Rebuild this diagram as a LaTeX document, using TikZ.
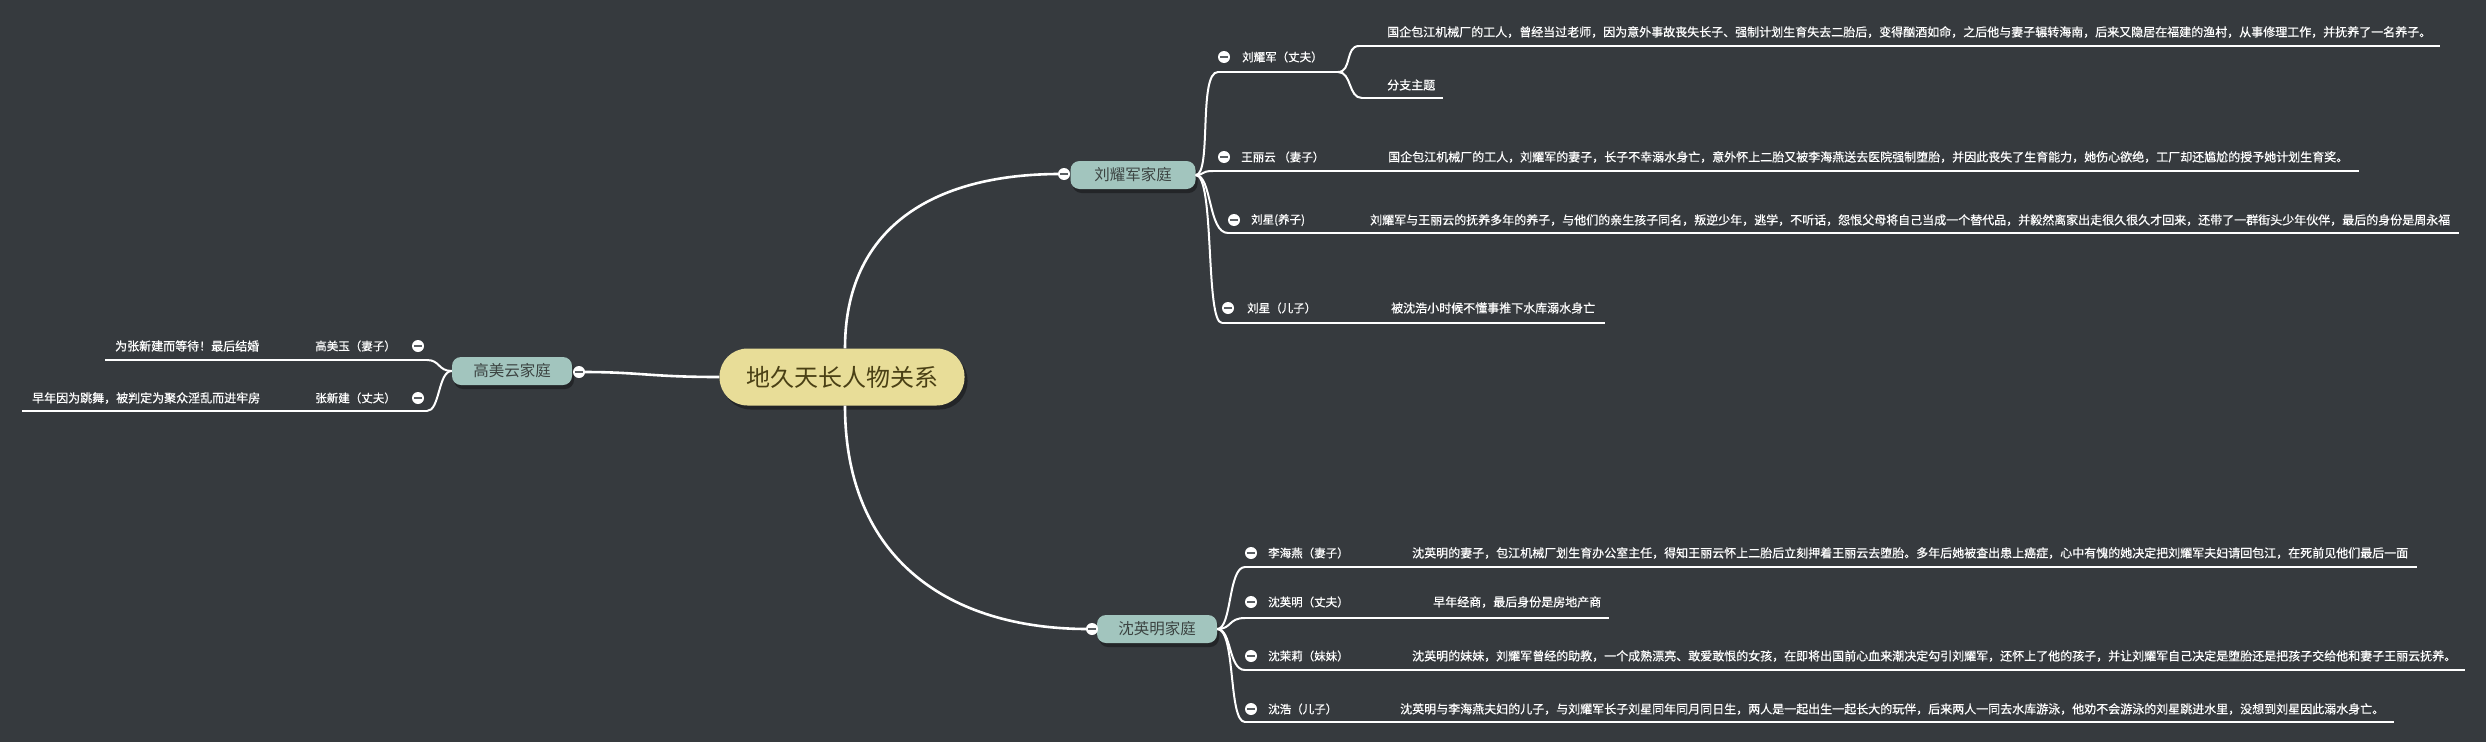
\documentclass[tikz,border=0pt]{standalone}
\usepackage{fontspec}
\setmainfont{Noto Sans CJK SC}
\newfontfamily\medfont[FakeBold=0.6]{Noto Sans CJK SC}
\usetikzlibrary{shadows}
\definecolor{bg}{HTML}{363A3E}
\definecolor{rootfill}{HTML}{E8DD98}
\definecolor{roottext}{HTML}{4A4015}
\definecolor{famfill}{HTML}{A2C5BE}
\definecolor{famtext}{HTML}{3C4442}
\definecolor{lineshadow}{HTML}{80858A}
\definecolor{minus}{HTML}{5A5F63}
\tikzset{
  rootbox/.style={fill=rootfill, rounded corners=28pt, minimum width=245pt, minimum height=57pt, inner sep=0pt, text=roottext, font=\fontsize{24}{28}\selectfont, drop shadow={shadow xshift=3pt, shadow yshift=-4pt, fill=black, opacity=0.35}},
  fambox/.style={fill=famfill, rounded corners=9pt, minimum height=28pt, inner sep=0pt, text=famtext, font=\fontsize{15.5}{18}\selectfont, drop shadow={shadow xshift=2pt, shadow yshift=-4pt, fill=black, opacity=0.35}},
  toggle/.style={circle, fill=white, minimum size=12pt, inner sep=0pt, path picture={\draw[minus, line width=1.6pt] ([xshift=-3.6pt]path picture bounding box.center) -- ([xshift=3.6pt]path picture bounding box.center);}},
  lbl/.style={text=white, font=\medfont\fontsize{11.5}{13}\selectfont, inner sep=0pt},
  desc/.style={text=white, font=\medfont\fontsize{12}{14}\selectfont, inner sep=0pt, anchor=west},
  trunk/.style={white, line width=2.6pt},
  branch/.style={white, line width=2pt},
  ushadow/.style={lineshadow, line width=1.4pt, yshift=-2pt},
}
\newcommand{\uline}[2]{\draw[ushadow] (#1) -- (#2); \draw[branch] (#1) -- (#2);}
\begin{document}
\begin{tikzpicture}[x=1pt, y=-1pt]
\fill[bg] (0,0) rectangle (2486,742);
\useasboundingbox (0,0) rectangle (2486,742);

% main nodes
\node[rootbox] (root) at (842,377) {地久天长人物关系};
\node[fambox, minimum width=125pt] (famL) at (1133,175) {刘耀军家庭};
\node[fambox, minimum width=120pt] (famS) at (1157,629) {沈英明家庭};
\node[fambox, minimum width=120pt] (famG) at (512,371) {高美云家庭};

% coordinates: underline starts/ends
\coordinate (aL1) at (1218,72);  \coordinate (bL1) at (1338,72);
\coordinate (aL1a) at (1359,46); \coordinate (bL1a) at (2440,46);
\coordinate (aL1b) at (1362,98); \coordinate (bL1b) at (1443,98);
\coordinate (aL2) at (1213,171); \coordinate (bL2) at (2359,171);
\coordinate (aL3) at (1228,233); \coordinate (bL3) at (2459,233);
\coordinate (aL4) at (1222,323); \coordinate (bL4) at (1605,323);
\coordinate (aS1) at (1245,567); \coordinate (bS1) at (2417,567);
\coordinate (aS2) at (1245,618); \coordinate (bS2) at (1609,618);
\coordinate (aS3) at (1245,670); \coordinate (bS3) at (2465,670);
\coordinate (aS4) at (1245,722); \coordinate (bS4) at (2394,722);
\coordinate (aG1) at (427,360);  \coordinate (bG1) at (105,360);
\coordinate (aG2) at (427,411);  \coordinate (bG2) at (22,411);

% trunk connectors
\draw[trunk] ([xshift=3pt]root.north) .. controls (845,230) and (930,174) .. (1060,174);
\draw[trunk] ([xshift=3pt]root.south) .. controls (845,560) and (950,629) .. (1088,629);
\draw[trunk] (root.west) .. controls (650,377) and (640,372) .. (583,372);

% branches of 刘耀军家庭
\draw[branch] (famL.east) .. controls (1212,175) and (1198,72) .. (aL1);
\draw[branch] (famL.east) .. controls (1205,175) and (1200,171) .. (aL2);
\draw[branch] (famL.east) .. controls (1212,175) and (1208,233) .. (aL3);
\draw[branch] (famL.east) .. controls (1215,175) and (1205,323) .. (aL4);
\draw[branch] (bL1) .. controls (1352,72) and (1345,46) .. (aL1a);
\draw[branch] (bL1) .. controls (1352,72) and (1348,98) .. (aL1b);
\uline{aL1}{bL1} \uline{aL1a}{bL1a} \uline{aL1b}{bL1b}
\uline{aL2}{bL2} \uline{aL3}{bL3} \uline{aL4}{bL4}

% branches of 沈英明家庭
\draw[branch] (famS.east) .. controls (1232,629) and (1228,567) .. (aS1);
\draw[branch] (famS.east) .. controls (1232,629) and (1228,618) .. (aS2);
\draw[branch] (famS.east) .. controls (1232,629) and (1228,670) .. (aS3);
\draw[branch] (famS.east) .. controls (1236,629) and (1228,722) .. (aS4);
\uline{aS1}{bS1} \uline{aS2}{bS2} \uline{aS3}{bS3} \uline{aS4}{bS4}

% branches of 高美云家庭
\draw[branch] (famG.west) .. controls (438,371) and (440,360) .. (aG1);
\draw[branch] (famG.west) .. controls (438,371) and (440,411) .. (aG2);
\uline{aG1}{bG1} \uline{aG2}{bG2}

% toggles
\node[toggle] (tL) at (1064,174) {};
\node[toggle] (tS) at (1092,629) {};
\node[toggle] (tG) at (579,372) {};
\node[toggle] (tL1) at (1224,57) {};
\node[toggle] (tL2) at (1224,157) {};
\node[toggle] (tL3) at (1234,220) {};
\node[toggle] (tL4) at (1228,308) {};
\node[toggle] (tS1) at (1251,553) {};
\node[toggle] (tS2) at (1251,602) {};
\node[toggle] (tS3) at (1251,656) {};
\node[toggle] (tS4) at (1251,709) {};
\node[toggle] (tG1) at (418,346) {};
\node[toggle] (tG2) at (418,398) {};

% labels
\node[lbl, anchor=west] (nL1) at (1242,57) {刘耀军（丈夫）};
\node[lbl, anchor=west] (nL2) at (1241,157) {王丽云 （妻子）};
\node[lbl, anchor=west] (nL3) at (1251,220) {刘星(养子)};
\node[lbl, anchor=west] (nL4) at (1247,308) {刘星（儿子）};
\node[lbl, anchor=west] (nS1) at (1268,553) {李海燕（妻子）};
\node[lbl, anchor=west] (nS2) at (1268,602) {沈英明（丈夫）};
\node[lbl, anchor=west] (nS3) at (1268,656) {沈茉莉（妹妹）};
\node[lbl, anchor=west] (nS4) at (1268,709) {沈浩（儿子）};
\node[lbl, anchor=east] (nG1) at (396,346) {高美玉（妻子）};
\node[lbl, anchor=east] (nG2) at (396,398) {张新建（丈夫）};

% descriptions
\node[desc] (dL1a) at (1387,32) {国企包江机械厂的工人，曾经当过老师，因为意外事故丧失长子、强制计划生育失去二胎后，变得酗酒如命，之后他与妻子辗转海南，后来又隐居在福建的渔村，从事修理工作，并抚养了一名养子。};
\node[desc] (dL1b) at (1387,85) {分支主题};
\node[desc] (dL2) at (1388,157) {国企包江机械厂的工人，刘耀军的妻子，长子不幸溺水身亡，意外怀上二胎又被李海燕送去医院强制堕胎，并因此丧失了生育能力，她伤心欲绝，工厂却还尴尬的授予她计划生育奖。};
\node[desc] (dL3) at (1370,220) {刘耀军与王丽云的抚养多年的养子，与他们的亲生孩子同名，叛逆少年，逃学，不听话，怨恨父母将自己当成一个替代品，并毅然离家出走很久很久才回来，还带了一群街头少年伙伴，最后的身份是周永福};
\node[desc] (dL4) at (1391,308) {被沈浩小时候不懂事推下水库溺水身亡};
\node[desc] (dS1) at (1412,553) {沈英明的妻子，包江机械厂划生育办公室主任，得知王丽云怀上二胎后立刻押着王丽云去堕胎。多年后她被查出患上癌症，心中有愧的她决定把刘耀军夫妇请回包江，在死前见他们最后一面};
\node[desc] (dS2) at (1433,602) {早年经商，最后身份是房地产商};
\node[desc] (dS3) at (1412,656) {沈英明的妹妹，刘耀军曾经的助教，一个成熟漂亮、敢爱敢恨的女孩，在即将出国前心血来潮决定勾引刘耀军，还怀上了他的孩子，并让刘耀军自己决定是堕胎还是把孩子交给他和妻子王丽云抚养。};
\node[desc] (dS4) at (1400,709) {沈英明与李海燕夫妇的儿子，与刘耀军长子刘星同年同月同日生，两人是一起出生一起长大的玩伴，后来两人一同去水库游泳，他劝不会游泳的刘星跳进水里，没想到刘星因此溺水身亡。};
\node[desc] (dG1) at (115,346) {为张新建而等待！最后结婚};
\node[desc] (dG2) at (32,398) {早年因为跳舞，被判定为聚众淫乱而进牢房};
\end{tikzpicture}
\end{document}
